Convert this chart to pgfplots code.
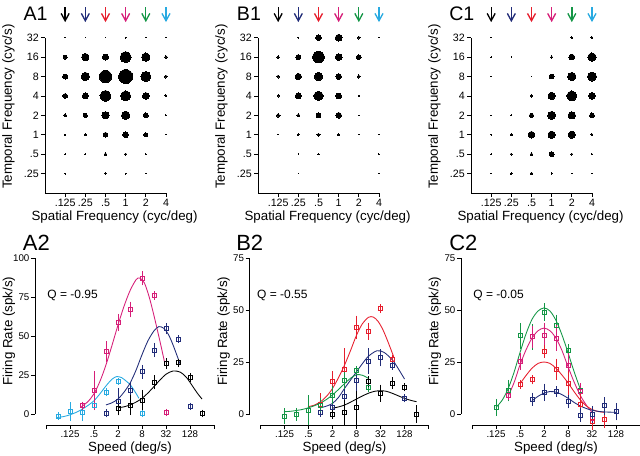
\documentclass[border=0pt]{standalone}
\usepackage{fontspec}
\setmainfont{Liberation Sans}
\usepackage{pgfplots}
\pgfplotsset{compat=1.18}
\usetikzlibrary{arrows.meta}

\definecolor{cnavy}{RGB}{33,44,120}
\definecolor{cred}{RGB}{230,30,45}
\definecolor{cmag}{RGB}{214,30,120}
\definecolor{cgreen}{RGB}{20,150,70}
\definecolor{ccyan}{RGB}{40,170,225}

\tikzset{arr/.style={line width=1pt, -{Straight Barb[length=5.5pt,width=6pt]}}}

% bubble grids: x = log2 SF, y = log2 TF, d = dot diameter (px)
\pgfplotstableread{
x y d
-3 5 0.5
-2 5 0.6
-1 5 0.6
0 5 0.7
1 5 0.6
2 5 0.6
-3 4 4
-2 4 7.3
-1 4 6
0 4 11
1 4 8.3
2 4 2.7
-3 3 5
-2 3 8.3
-1 3 12.3
0 3 14
1 3 10
2 3 3
-3 2 4.7
-2 2 6
-1 2 11
0 2 10
1 2 6.7
2 2 2
-3 1 3.3
-2 1 4
-1 1 7.3
0 1 8.3
1 1 5
2 1 1
-3 0 1.3
-2 0 2
-1 0 4.7
0 0 5.7
1 0 4
2 0 0.5
-3 -1 0.7
-2 -1 1
-1 -1 2.7
0 -1 2.3
1 -1 0.7
-3 -2 1
-1 -2 1.7
0 -2 1
1 -2 0.7
}\Aone
\pgfplotstableread{
x y d
-2 5 1.3
-1 5 5.7
0 5 6.7
1 5 2.7
2 5 0.5
-3 4 2.7
-2 4 5
-1 4 11.7
0 4 6.7
1 4 4.7
-3 3 3
-2 3 6.3
-1 3 8.3
0 3 5.7
1 3 3.3
-3 2 2.3
-2 2 6
-1 2 9.3
0 2 5.7
1 2 1.3
-3 1 3.7
-2 1 3.3
-1 1 4.7
0 1 5.7
1 1 0.6
-3 0 0.5
-2 0 1.7
-1 0 3.3
0 0 2
1 0 0.5
2 0 0.5
-2 -1 0.6
-1 -1 1.3
2 -1 0.5
-2 -2 0.5
2 -2 0.6
}\Bone
\pgfplotstableread{
x y d
-3 5 0.6
1 5 2
2 5 2
-3 4 0.5
-2 4 0.5
0 4 2.3
1 4 5.7
2 4 8.3
-3 3 0.5
-1 3 0.5
0 3 4.7
1 3 8.3
2 3 9
-1 2 2.7
0 2 7.3
1 2 10
2 2 6.7
-3 1 0.5
-2 1 0.7
-1 1 4
0 1 8
1 1 7.3
2 1 4.7
-3 0 0.6
-2 0 2.3
-1 0 6.7
0 0 7.3
1 0 7.3
2 0 2
-3 -1 0.5
-2 -1 2
-1 -1 2.7
0 -1 5
1 -1 2
2 -1 1.3
-3 -2 0.6
-2 -2 1.7
-1 -2 2.7
0 -2 1.3
1 -2 0.5
2 -2 0.5
}\Cone

\pgfplotsset{
  /pgf/number format/assume math mode=true,
  common/.style={
    scale only axis, anchor=south west, clip=false,
    axis x line*=bottom, axis y line*=left,
    tick align=outside, major tick length=3pt,
    every tick/.style={black, line width=0.6pt},
    axis line style={line width=0.6pt},
    ticklabel style={font=\fontsize{8}{9}\selectfont, inner sep=1.5pt},
    label style={font=\fontsize{9}{10}\selectfont},
  },
  sfplot/.style={
    common, width=90.75pt, height=116.5pt,
    xmin=-4, xmax=2, ymin=-3, ymax=5,
    xtick={-3,...,2}, xticklabels={.125,.25,.5,1,2,4},
    ytick={-2,...,5}, yticklabels={.25,.5,1,2,4,8,16,32},
    xlabel={Spatial Frequency (cyc/deg)},
    ylabel={Temporal Frequency (cyc/s)},
    every axis x label/.style={at={(axis description cs:0.575,-0.158)}, anchor=center},
    every axis y label/.style={at={(axis description cs:-0.303,0.556)}, rotate=90, anchor=center},
  },
  spdplot/.style={
    common, width=126pt, height=117pt,
    xmin=-5, xmax=9, ymin=0,
    axis x line shift=8.25pt, axis y line shift=8.25pt,
    xtick={-5,-3,...,9}, xticklabels={,.125,.5,2,8,32,128,},
    ytick={0,25,...,100},
    ticklabel style={font=\fontsize{7.3}{8}\selectfont, inner sep=1pt},
    xlabel={Speed (deg/s)}, ylabel={Firing Rate (spk/s)},
    every axis x label/.style={at={(axis description cs:0.5,-0.218)}, anchor=center},
    every axis y label/.style={at={(axis description cs:-0.22,0.53)}, rotate=90, anchor=center},
  },
  bubbles/.style={scatter, only marks, mark=*,
    scatter/use mapped color={draw=black, fill=black},
    mark options={line width=0pt},
    visualization depends on={0.375*\thisrow{d} \as \ms},
    scatter/@pre marker code/.append style={/tikz/mark size=\ms},
    point meta=\thisrow{d}},
  sq/.style={only marks, mark=square, mark size=1.5pt, line width=0.65pt,
    error bars/.cd, y dir=both, y explicit,
    error mark options={mark size=1.8pt, line width=0.65pt}},
  fit/.style={smooth, no marks, line width=0.65pt},
}

\newcommand\sfarrows{%
  \draw[arr, black] (axis cs:-3,6.57) -- (axis cs:-3,5.8);
  \draw[arr, cnavy] (axis cs:-2,6.57) -- (axis cs:-2,5.8);
  \draw[arr, cred] (axis cs:-1,6.57) -- (axis cs:-1,5.8);
  \draw[arr, cmag] (axis cs:0,6.57) -- (axis cs:0,5.8);
  \draw[arr, cgreen] (axis cs:1,6.57) -- (axis cs:1,5.8);
  \draw[arr, ccyan] (axis cs:2,6.57) -- (axis cs:2,5.8);
}

\begin{document}
\begin{tikzpicture}
\useasboundingbox (0,0) rectangle (480pt,342pt);

\node[anchor=west, inner sep=0pt, font=\fontsize{14.7}{15}\selectfont] at (17.5pt,331.7pt) {A1};
\node[anchor=west, inner sep=0pt, font=\fontsize{14.7}{15}\selectfont] at (177.5pt,331.7pt) {B1};
\node[anchor=west, inner sep=0pt, font=\fontsize{14.7}{15}\selectfont] at (336.75pt,331.7pt) {C1};
\node[anchor=west, inner sep=0pt, font=\fontsize{16.5}{17}\selectfont] at (17pt,160pt) {A2};
\node[anchor=west, inner sep=0pt, font=\fontsize{16.5}{17}\selectfont] at (177pt,160pt) {B2};
\node[anchor=west, inner sep=0pt, font=\fontsize{16.5}{17}\selectfont] at (336.75pt,160pt) {C2};

% ---- top row ----
\begin{axis}[sfplot, at={(33.75pt,197.25pt)}]
\addplot[bubbles] table[x=x, y=y] {\Aone};
\sfarrows
\end{axis}

\begin{axis}[sfplot, at={(193.5pt,197.25pt)}]
\addplot[bubbles] table[x=x, y=y] {\Bone};
\sfarrows
\end{axis}

\begin{axis}[sfplot, at={(353.25pt,197.25pt)}]
\addplot[bubbles] table[x=x, y=y] {\Cone};
\sfarrows
\end{axis}

% ---- A2 ----
\begin{axis}[spdplot, at={(34.5pt,31.5pt)}, ymax=100]
\addplot[ccyan, fit] coordinates {(-4.15,-2.4) (-3.5,-1.6) (-3,-0.5) (-2.5,1) (-2,3) (-1.5,5.5) (-1,8.5) (-0.5,13) (0,18) (0.5,22.3) (0.9,24) (1.3,23.3) (1.7,21) (2,19) (2.4,14.5) (2.75,10)};
\addplot[cmag, fit] coordinates {(-2.05,4.7) (-1.5,8) (-1,13) (-0.5,21) (0,31.5) (0.5,44) (1,57) (1.5,69) (2,79) (2.5,86) (2.8,87.2) (3.2,84) (3.6,75) (4,63) (4.5,46.5) (4.9,32.5)};
\addplot[cnavy, fit] coordinates {(0,5.8) (0.5,7.2) (1,9.6) (1.5,14) (2,19.7) (2.5,28) (3,38) (3.5,47) (4,53.3) (4.4,56) (4.8,55) (5.2,51) (5.6,44) (6.2,31.5)};
\addplot[black, fit] coordinates {(1,4) (1.5,4.6) (2,5.8) (2.5,7.6) (3,10) (3.5,13.5) (4,17.6) (4.5,21.8) (5,25.5) (5.6,27.6) (6.2,26.8) (6.7,23.5) (7.2,18) (7.6,13.5) (8,9.6)};
\addplot[ccyan, sq] table[x=x, y=y, y error=e] {
x y e
-4 -1.3 0.8
-3 1.5 4.5
-2 1 4
-1 5.8 1.5
0 14 1
1 21 0.8
2 15 1.5
3 0.5 0.8
};
\addplot[cmag, sq] table[x=x, y=y, y error=e] {
x y e
-2 5.4 1
-1 15 11
0 40 5
1 58.7 4
2 67 3.5
3 87 3
4 76 1.2
5 0.9 0.8
};
\addplot[cnavy, sq] table[x=x, y=y, y error=e] {
x y e
0 0.4 1
1 8 7
2 15 4
3 27 3
4 41 3
5 54.6 2
6 48 1
7 5 0.8
};
\addplot[black, sq] table[x=x, y=y, y error=e] {
x y e
1 3.6 3
2 5.8 5
3 9 5
4 20.3 3
5 32.3 2
6 32.8 1.2
7 23.3 1.2
8 0.4 0.8
};
\node[anchor=west, inner sep=0pt, font=\fontsize{9}{10}\selectfont] at (axis cs:-4.9,76.3) {Q = -0.95};
\end{axis}

% ---- B2 ----
\begin{axis}[spdplot, at={(195.4pt,31.5pt)}, ymax=75]
\addplot[cred, fit] coordinates {(-1.04,3.5) (-0.5,4.3) (0,5.9) (0.5,8.5) (1,12.3) (1.5,17.5) (2,23.5) (2.5,30.5) (3,37.9) (3.5,43.5) (4,46.5) (4.4,46.6) (4.8,44.5) (5.2,40.5) (5.6,35) (6.1,27.5)};
\addplot[cnavy, fit] coordinates {(0,3) (0.5,3.8) (1,5.1) (1.5,8) (2,12.3) (2.5,16.3) (3,20.3) (3.5,24.3) (4,27.8) (4.7,30.4) (5.3,29.6) (6,25.9) (6.5,21.6) (7,16.8)};
\addplot[cgreen, fit] coordinates {(-3.05,1.1) (-2.5,1.3) (-2,1.7) (-1.5,2.2) (-1,3) (-0.5,4) (0,5.3) (0.5,7) (1,9.2) (1.5,11.8) (2,14.6) (2.5,17.2) (3,18.9) (3.5,18.6) (4,17.1)};
\addplot[black, fit] coordinates {(1,2.8) (1.5,3.4) (2,4.3) (2.5,5.7) (3,7.2) (3.5,8.7) (4,10) (4.5,10.9) (5,11.2) (5.5,10.9) (6,9.9) (6.5,8.7) (7,7.5) (7.5,6.6) (8,5.9)};
\addplot[cred, sq] table[x=x, y=y, y error=e] {
x y e
-1 1.9 5
0 4.8 4
1 15.5 4
2 21.4 9
3 41.6 4.5
4 39.8 3
5 50.7 1
6 26.4 1
};
\addplot[cnavy, sq] table[x=x, y=y, y error=e] {
x y e
0 0.8 1
1 3 4
2 8.6 4
3 16 6
4 25.4 5
5 27 3
6 23.5 1
7 7.5 0.8
};
\addplot[cgreen, sq] table[x=x, y=y, y error=e] {
x y e
-3 -1 2.5
-2 -0.2 2
-1 1.9 6
0 4.3 2
1 9.1 3
2 16.2 3
3 20.8 1
4 12.6 1
};
\addplot[black, sq] table[x=x, y=y, y error=e] {
x y e
1 -0.2 1
2 0.6 5
3 3 7
4 15.5 1.5
5 10 3
6 14.9 1.5
7 12.8 0.8
8 0 3
};
\node[anchor=west, inner sep=0pt, font=\fontsize{9}{10}\selectfont] at (axis cs:-5.3,57.2) {Q = -0.55};
\end{axis}

% ---- C2 ----
\begin{axis}[spdplot, at={(354pt,31.5pt)}, ymax=75]
\addplot[cgreen, fit] coordinates {(-3,3.2) (-2.5,6.5) (-2,12) (-1.5,20) (-1,29.5) (-0.5,38.5) (0,45.5) (0.5,49.5) (1,51) (1.5,49.5) (2,45) (2.5,38) (3,29.5) (3.5,20.5) (4,12.4)};
\addplot[cmag, fit] coordinates {(-2,8.4) (-1.5,15) (-1,23.6) (-0.5,30.8) (0,36.5) (0.5,40) (1,41.3) (1.5,40) (2,36.5) (2.5,30.5) (3,22.8) (3.5,15.5) (4,9.2) (4.5,4.5) (5,0.8)};
\addplot[cred, fit] coordinates {(-1,14.5) (-0.5,18.5) (0,22) (0.5,24.3) (1,25) (1.5,24.3) (2,22) (2.5,18.7) (3,15) (3.5,10.8) (4,7) (4.5,4) (5,2.2) (5.5,1.2) (6,0.8)};
\addplot[cnavy, fit] coordinates {(0,6.3) (0.5,8.5) (1,10) (1.5,10.8) (2,10.5) (2.5,9.3) (3,7.6) (3.5,5.6) (4,3.9) (4.5,2.7) (5,1.8) (5.5,1.3) (6,1) (7,0.8)};
\addplot[cgreen, sq] table[x=x, y=y, y error=e] {
x y e
-3 3.1 3
-2 11.2 4
-1 37.6 5
0 37.1 5
1 49 3
2 42.6 4
3 30.4 2
4 11.2 2
};
\addplot[cmag, sq] table[x=x, y=y, y error=e] {
x y e
-2 8.7 1
-1 25.2 3
0 37.1 4
1 37.7 5
2 36.5 5
3 23.3 5
4 10.8 3
5 -2 2
};
\addplot[cred, sq] table[x=x, y=y, y error=e] {
x y e
-1 14.3 1
0 16.4 1
1 30 2
2 21.5 4
3 14.5 5
4 4.8 4
5 -3.5 3
6 -2.6 3
};
\addplot[cnavy, sq] table[x=x, y=y, y error=e] {
x y e
0 7.1 2
1 10.4 3
2 10.8 1.5
3 5.9 2
4 -0.5 2
5 -0.2 3
6 3.9 3
7 1.1 3
};
\node[anchor=west, inner sep=0pt, font=\fontsize{9}{10}\selectfont] at (axis cs:-4.9,57.2) {Q = -0.05};
\end{axis}
\end{tikzpicture}
\end{document}
